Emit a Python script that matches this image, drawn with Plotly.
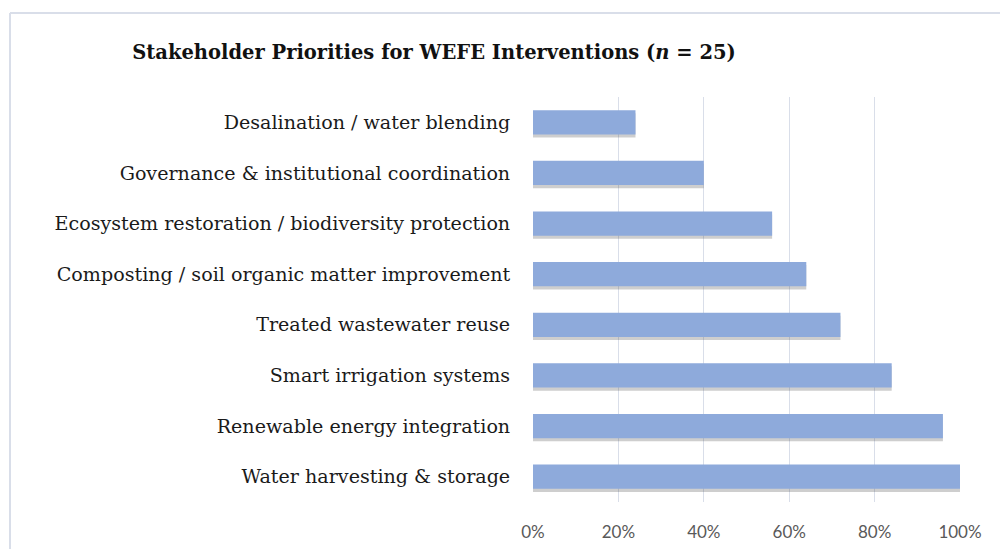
import plotly.graph_objects as go

categories = [
    "Water harvesting & storage",
    "Renewable energy integration",
    "Smart irrigation systems",
    "Treated wastewater reuse",
    "Composting / soil organic matter improvement",
    "Ecosystem restoration / biodiversity protection",
    "Governance & institutional coordination",
    "Desalination / water blending",
]
values = [100, 96, 84, 72, 64, 56, 40, 24]
tick_vals = [0, 20, 40, 60, 80, 100]
tick_text = ["0%", "20%", "40%", "60%", "80%", "100%"]

fig = go.Figure()
# soft shadow beneath bars
fig.add_trace(go.Bar(
    y=categories, x=values, orientation="h",
    width=0.48, offset=-0.30,
    marker=dict(color="rgba(80,80,80,0.28)", line=dict(width=0)),
    hoverinfo="skip", showlegend=False,
))
fig.add_trace(go.Bar(
    y=categories, x=values, orientation="h",
    width=0.48, offset=-0.24,
    marker=dict(color="#8EAADB", line=dict(width=0)),
    showlegend=False,
))

fig.update_layout(
    width=1000, height=549,
    margin=dict(l=533, r=40, t=97, b=47, autoexpand=False),
    paper_bgcolor="white", plot_bgcolor="white",
    barmode="overlay",
    title=dict(
        text="<b>Stakeholder Priorities for WEFE Interventions (<i>n</i> = 25)</b>",
        font=dict(family="DejaVu Serif", size=19.5, color="#111111"),
        x=0.434, xanchor="center", xref="container",
        y=1 - 52 / 549, yanchor="middle", yref="container",
    ),
    xaxis=dict(
        range=[0, 100], tickvals=tick_vals, ticktext=tick_text,
        showgrid=True, gridcolor="#D9DEE9", gridwidth=1.2,
        zeroline=False, showline=False, automargin=False,
        ticks="outside", ticklen=15, tickcolor="rgba(0,0,0,0)",
        tickfont=dict(family="Lato", size=17, color="#595959"),
        fixedrange=True,
    ),
    yaxis=dict(
        range=[-0.5, 7.5], showgrid=False, zeroline=False, showline=False,
        automargin=False,
        ticks="outside", ticklen=18, tickcolor="rgba(0,0,0,0)",
        tickfont=dict(family="DejaVu Serif", size=19.1, color="#1a1a1a"),
        fixedrange=True,
    ),
    shapes=[
        dict(type="line", xref="paper", yref="paper",
             x0=(10 - 533) / 427, x1=(1010 - 533) / 427,
             y0=(502 - 13) / 405, y1=(502 - 13) / 405,
             line=dict(color="#D9DEE9", width=2), layer="below"),
        dict(type="line", xref="paper", yref="paper",
             x0=(10 - 533) / 427, x1=(10 - 533) / 427,
             y0=(502 - 13) / 405, y1=(502 - 560) / 405,
             line=dict(color="#D9DEE9", width=2), layer="below"),
    ],
)

fig.write_html("out.html")
